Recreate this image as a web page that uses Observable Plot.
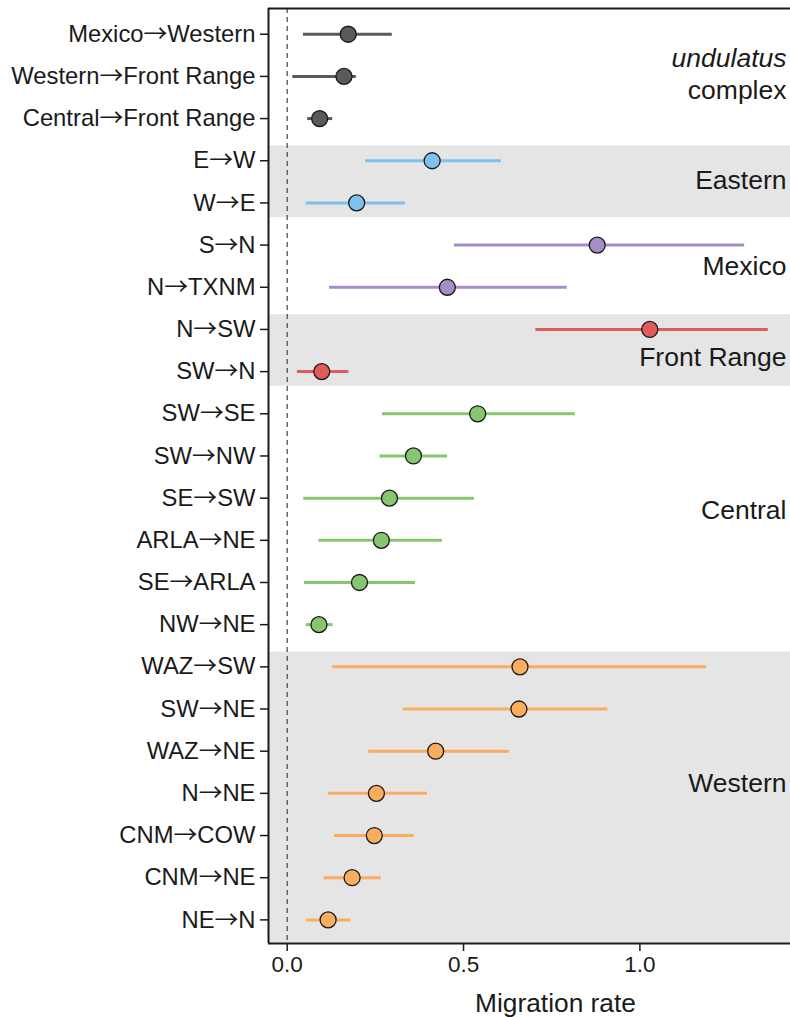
<!DOCTYPE html>
<html>
<head>
<meta charset="utf-8">
<script src="https://cdn.jsdelivr.net/npm/d3@7"></script>
<script src="https://cdn.jsdelivr.net/npm/@observablehq/plot@0.6"></script>
<style>
  html, body { margin: 0; padding: 0; background: #fff; }
  #chart svg { display: block; }
</style>
</head>
<body>
<div id="chart"></div>
<script>
// ---- data ----
const labels = [
  "Mexico→Western", "Western→Front Range", "Central→Front Range",
  "E→W", "W→E",
  "S→N", "N→TXNM",
  "N→SW", "SW→N",
  "SW→SE", "SW→NW", "SE→SW", "ARLA→NE", "SE→ARLA", "NW→NE",
  "WAZ→SW", "SW→NE", "WAZ→NE", "N→NE", "CNM→COW", "CNM→NE", "NE→N"
];
const groupOf = [
  "undulatus", "undulatus", "undulatus",
  "Eastern", "Eastern",
  "Mexico", "Mexico",
  "Front Range", "Front Range",
  "Central", "Central", "Central", "Central", "Central", "Central",
  "Western", "Western", "Western", "Western", "Western", "Western", "Western"
];
const rate = [0.173, 0.161, 0.092, 0.411, 0.197, 0.879, 0.454, 1.028, 0.098,
  0.540, 0.358, 0.290, 0.267, 0.205, 0.090,
  0.660, 0.657, 0.421, 0.253, 0.247, 0.184, 0.116];
const lower = [0.046, 0.016, 0.058, 0.222, 0.054, 0.474, 0.120, 0.705, 0.029,
  0.270, 0.263, 0.047, 0.090, 0.049, 0.054,
  0.129, 0.329, 0.231, 0.117, 0.134, 0.104, 0.054];
const upper = [0.298, 0.196, 0.129, 0.607, 0.335, 1.297, 0.794, 1.364, 0.175,
  0.817, 0.455, 0.531, 0.440, 0.364, 0.130,
  1.189, 0.909, 0.630, 0.398, 0.360, 0.267, 0.181];
const groups = ["undulatus", "Eastern", "Mexico", "Front Range", "Central", "Western"];
const groupColors = ["#5a5a5a", "#7cc2ea", "#a78dc6", "#e05c5c", "#87c56f", "#f9ad5f"];
const shadedGroups = ["Eastern", "Front Range", "Western"];
const tickValues = [0, 0.5, 1.0];

// ---- layout ----
const X_DOMAIN = [-0.053, 1.427];
const Y_DOMAIN = [-0.61, 21.56];
const BAND_PAD = 0.35;
const labelRows = {"undulatus": 0.58, "complex": 1.33, "Eastern": 3.48, "Mexico": 5.5,
  "Front Range": 7.66, "Central": 11.3, "Western": 17.77};

const rows = labels.map((label, i) => ({
  i, label, group: groupOf[i], rate: rate[i], lo: lower[i], hi: upper[i]
}));

const bands = shadedGroups.map(g => {
  const idx = rows.filter(r => r.group === g).map(r => r.i);
  const first = d3.min(idx), last = d3.max(idx);
  return {
    group: g,
    y1: first - BAND_PAD,
    y2: last === labels.length - 1 ? Y_DOMAIN[1] : last + BAND_PAD
  };
});

const groupText = groups.filter(g => g !== "undulatus").map(g => ({text: g, row: labelRows[g]}));

const FONT = "'Liberation Sans', Arial, sans-serif";
const ARROW_FONT = "'Noto Sans CJK SC', 'DejaVu Sans', sans-serif";
const INK = "#1a1a1a";
const GROUP_FS = 26.5;

const chart = Plot.plot({
  width: 790,
  height: 1017,
  marginLeft: 268,
  marginRight: 0,
  marginTop: 8,
  marginBottom: 74,
  style: {fontFamily: FONT, color: INK, background: "#fff", overflow: "visible"},
  x: {domain: X_DOMAIN},
  y: {domain: Y_DOMAIN, reverse: true},
  color: {domain: groups, range: groupColors},
  marks: [
    Plot.rect(bands, {x1: X_DOMAIN[0], x2: X_DOMAIN[1], y1: "y1", y2: "y2", fill: "#e5e5e5"}),
    Plot.ruleX([0], {stroke: "#444", strokeWidth: 1.2, strokeDasharray: "5,4"}),
    Plot.ruleY(rows, {y: "i", x1: "lo", x2: "hi", stroke: "group", strokeWidth: 3}),
    Plot.dot(rows, {x: "rate", y: "i", r: 8, fill: "group", stroke: "#1a1a1a", strokeWidth: 1.3}),
    Plot.text(["undulatus"], {x: X_DOMAIN[1], y: labelRows["undulatus"], text: d => d, textAnchor: "end", dx: -4,
      fontSize: GROUP_FS, fontStyle: "italic", fill: INK}),
    Plot.text(["complex"], {x: X_DOMAIN[1], y: labelRows["complex"], text: d => d, textAnchor: "end", dx: -4,
      fontSize: GROUP_FS, fill: INK}),
    Plot.text(groupText, {x: X_DOMAIN[1], y: "row", text: "text", textAnchor: "end", dx: -4,
      fontSize: GROUP_FS, fill: INK}),
    Plot.axisY({ticks: d3.range(labels.length), tickFormat: i => labels[i], tickSize: 8, tickPadding: 5,
      fontSize: 23.8, label: null, stroke: INK, strokeWidth: 1.5, fill: INK}),
    Plot.axisX({ticks: tickValues, tickFormat: d3.format(".1f"), tickSize: 8, tickPadding: 5,
      fontSize: 22.5, label: null, stroke: INK, strokeWidth: 1.5, fill: INK}),
    Plot.text(["Migration rate"], {frameAnchor: "bottom", dx: 26, dy: 60, text: d => d, fontSize: 26.3,
      lineAnchor: "middle", fill: INK}),
    Plot.ruleX([X_DOMAIN[0]], {stroke: INK, strokeWidth: 2}),
    Plot.ruleY([Y_DOMAIN[0]], {stroke: INK, strokeWidth: 2}),
    Plot.ruleY([Y_DOMAIN[1]], {stroke: INK, strokeWidth: 2})
  ]
});

// render the arrow of each tick label in a font with a long, thin arrow
chart.querySelectorAll('g[aria-label="y-axis tick label"] text').forEach(el => {
  const s = el.textContent;
  if (!s.includes("→")) return;
  el.textContent = "";
  s.split(/(→)/).forEach(part => {
    if (!part) return;
    const ts = document.createElementNS("http://www.w3.org/2000/svg", "tspan");
    ts.textContent = part;
    if (part === "→") ts.setAttribute("font-family", ARROW_FONT);
    el.appendChild(ts);
  });
});

document.getElementById("chart").appendChild(chart);
</script>
</body>
</html>
